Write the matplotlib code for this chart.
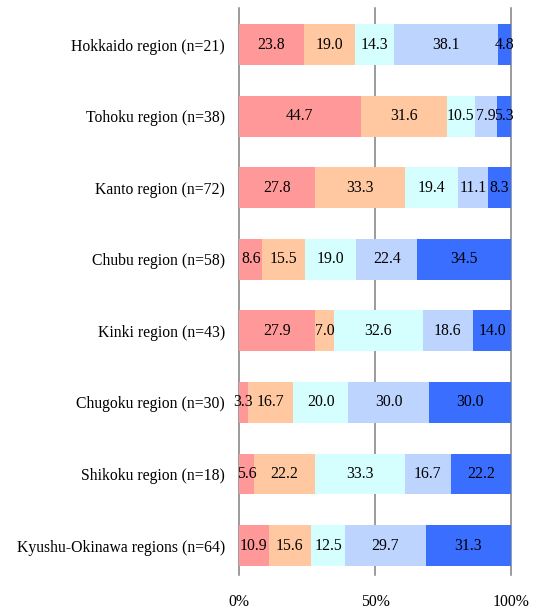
import matplotlib.pyplot as plt
import numpy as np

plt.rcParams['font.family'] = ['Liberation Serif', 'DejaVu Serif']

regions = ['Hokkaido region (n=21)', 'Tohoku region (n=38)', 'Kanto region (n=72)',
           'Chubu region (n=58)', 'Kinki region (n=43)', 'Chugoku region (n=30)',
           'Shikoku region (n=18)', 'Kyushu-Okinawa regions (n=64)']
s1 = [23.8, 44.7, 27.8, 8.6, 27.9, 3.3, 5.6, 10.9]
s2 = [19.0, 31.6, 33.3, 15.5, 7.0, 16.7, 22.2, 15.6]
s3 = [14.3, 10.5, 19.4, 19.0, 32.6, 20.0, 33.3, 12.5]
s4 = [38.1, 7.9, 11.1, 22.4, 18.6, 30.0, 16.7, 29.7]
s5 = [4.8, 5.3, 8.3, 34.5, 14.0, 30.0, 22.2, 31.3]
colors = ['#FF9999', '#FFC8A0', '#D5FFFF', '#BDD4FF', '#3A6EFF']

fig = plt.figure(figsize=(5.38, 6.12), dpi=100)
ax = fig.add_axes([239/538, 1-575/612, (511-239)/538, (575-8)/612])

y = np.arange(len(regions))
left = np.zeros(len(regions))
for vals, c in zip([s1, s2, s3, s4, s5], colors):
    vals = np.array(vals)
    ax.barh(y, vals, left=left, height=0.57, color=c, zorder=2)
    for yi, l, v in zip(y, left, vals):
        ax.text(l + v/2, yi, f'{v:.1f}', ha='center', va='center', fontsize=11.3, zorder=3)
    left += vals

ax.set_xlim(0, 100)
ax.set_ylim(7.41, -0.51)
for x in [0, 50, 100]:
    ax.axvline(x, color='#808080', lw=1.1, zorder=1, clip_on=False)
ax.set_xticks([0, 50, 100])
ax.set_xticklabels(['0%', '50%', '100%'], fontsize=11.3)
ax.set_yticks(y)
ax.set_yticklabels(regions, fontsize=11.3)
ax.tick_params(length=0, pad=10)
ax.tick_params(axis='x', pad=14)
for sp in ax.spines.values():
    sp.set_visible(False)

fig.savefig('out.png', dpi=100)
